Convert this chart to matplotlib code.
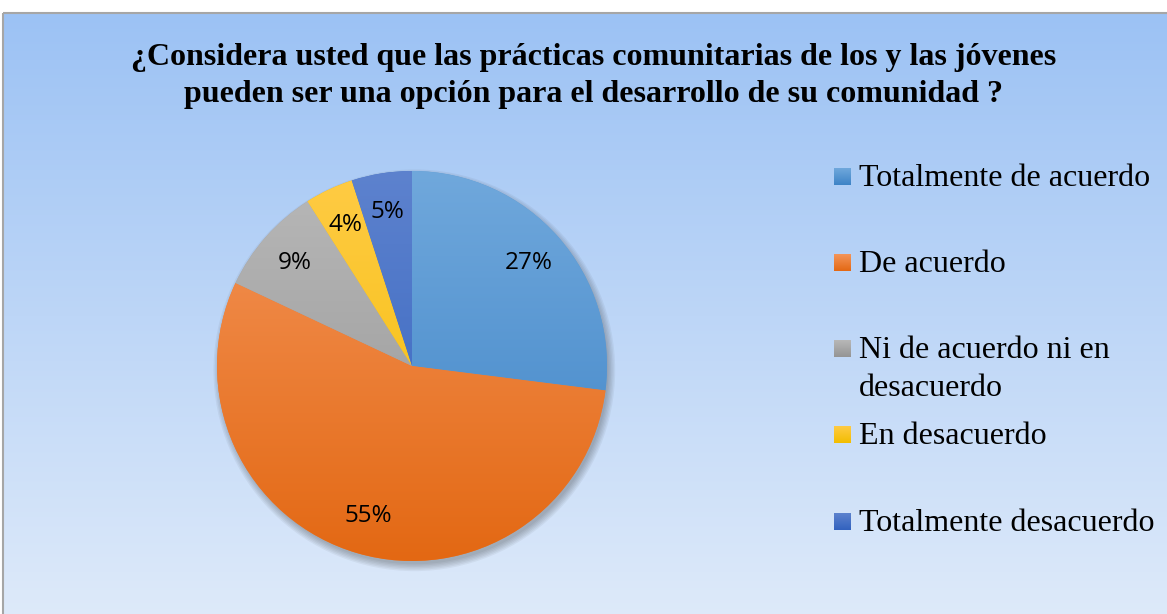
import numpy as np
import matplotlib
matplotlib.use("Agg")
import matplotlib.pyplot as plt
from matplotlib.patches import Rectangle, Circle
from matplotlib.colors import LinearSegmentedColormap

title = ("¿Considera usted que las prácticas comunitarias de los y las jóvenes\n"
         "pueden ser una opción para el desarrollo de su comunidad ?")
labels = ["Totalmente de acuerdo", "De acuerdo", "Ni de acuerdo ni en\ndesacuerdo",
          "En desacuerdo", "Totalmente desacuerdo"]
values = [27, 55, 9, 4, 5]
top_colors = ["#70A8DC", "#F4955A", "#B8B8B8", "#FFCB45", "#5D82CE"]
bottom_colors = ["#3D83C6", "#E36813", "#949494", "#F2BD00", "#3262BE"]
mid_colors = ["#5B9BD5", "#ED7D31", "#A5A5A5", "#FFC000", "#4472C4"]

W, H = 1167, 614
fig = plt.figure(figsize=(W / 100, H / 100), dpi=100)
fig.patch.set_facecolor("white")

# background with gradient and border
bg = fig.add_axes([0, 0, 1, 1])
bg.set_xlim(0, W)
bg.set_ylim(H, 0)
bg.axis("off")
grad = np.linspace(0, 1, 256).reshape(-1, 1)
bgcmap = LinearSegmentedColormap.from_list("bg", ["#9CC2F4", "#DEEAFA"])
bg.imshow(grad, cmap=bgcmap, extent=[3, W + 5, H + 5, 13], aspect="auto", zorder=0)
bg.add_patch(Rectangle((3, 13), W + 10, H + 10, fill=False, edgecolor="#A6A6A6", lw=1.5, zorder=1))

# pie
cx, cy, R = 412, 366, 195
L = 1.08  # room for the shadow
ax = fig.add_axes([(cx - L * R) / W, (H - cy - L * R) / H, 2 * L * R / W, 2 * L * R / H])
ax.axis("off")

for i in range(6):
    ax.add_patch(Circle((0.012, -0.022), 0.995 + 0.007 * i, facecolor="#303030",
                        alpha=0.06, edgecolor="none", zorder=0))

wedges, texts, autotexts = ax.pie(values, colors=mid_colors, startangle=90, counterclock=False,
                                  autopct="%1.0f%%", pctdistance=0.8, radius=1.0,
                                  wedgeprops=dict(edgecolor="none", linewidth=0),
                                  textprops=dict(family="Open Sans", fontsize=17.5, color="black"))
ax.set_xlim(-L, L)
ax.set_ylim(-L, L)

for w, c0, c1 in zip(wedges, top_colors, bottom_colors):
    cm = LinearSegmentedColormap.from_list("g", [c0, c1])
    im = ax.imshow(grad, cmap=cm, extent=[-1, 1, -1, 1], aspect="auto", zorder=2)
    im.set_clip_path(w)
    w.set_zorder(1)
ax.set_xlim(-L, L)
ax.set_ylim(-L, L)
for t in autotexts:
    t.set_zorder(5)

# title
fig.text(594 / W, 1 - 76 / H, title, ha="center", va="center", family="Liberation Serif",
         fontweight="bold", fontsize=23, linespacing=1.4)

# legend drawn by hand
row_y = [177, 263, 349, 435, 522]
for lab, y, c0, c1 in zip(labels, row_y, top_colors, bottom_colors):
    cm = LinearSegmentedColormap.from_list("g", [c0, c1])
    bg.imshow(grad, cmap=cm, extent=[834, 851, y + 8.5, y - 8.5], aspect="auto", zorder=3)
    bg.text(859, y + 9, lab.split("\n")[0], ha="left", va="baseline", family="Liberation Serif",
            fontsize=23, zorder=4)
    if "\n" in lab:
        bg.text(859, y + 47, lab.split("\n")[1], ha="left", va="baseline",
                family="Liberation Serif", fontsize=23, zorder=4)
bg.set_xlim(0, W)
bg.set_ylim(H, 0)

fig.savefig("out.png", dpi=100)
plt.close(fig)
